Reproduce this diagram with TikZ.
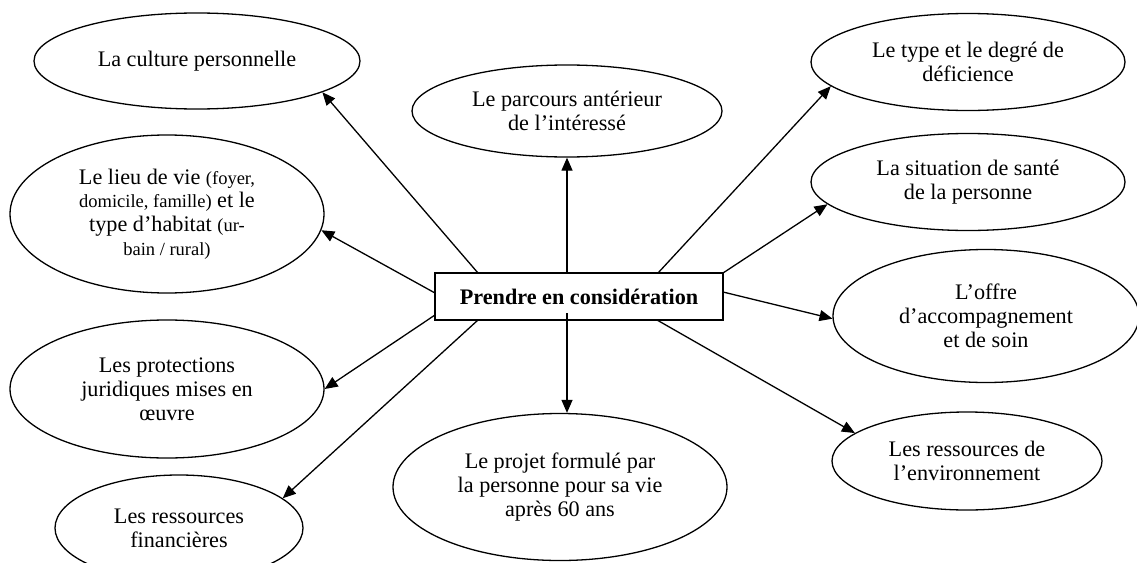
\documentclass[tikz,border=0pt]{standalone}
\usepackage{fontspec}
\setmainfont{Liberation Serif}
\usetikzlibrary{shapes.geometric,arrows.meta}
\begin{document}
\begin{tikzpicture}[x=1pt,y=-1pt,
  oval/.style={draw,ellipse,line width=1.3pt,inner sep=0pt,align=center,
    font=\fontsize{22.2}{23.8}\selectfont},
  hub/.style={draw,rectangle,line width=1.3pt,inner sep=0pt,
    font=\fontsize{22.2}{23.8}\selectfont\bfseries},
  link/.style={line width=1.3pt,-{Triangle[length=13pt,width=11pt]}}]
\useasboundingbox (0,0) rectangle (1137,562);
\fill[white] (0,0) rectangle (1137,562);
\newcommand{\sm}[1]{{\fontsize{18.5}{23.8}\selectfont #1}}
% hub
\node[hub,minimum width=288pt,minimum height=47pt] (box) at (579,296.5) {Prendre en considération};
% ellipses
\node[oval,minimum width=326pt,minimum height=96pt] (cult) at (197,61) {La culture personnelle};
\node[oval,minimum width=314pt,minimum height=158pt] (lieu) at (167,214)
  {Le lieu de vie \sm{(foyer,}\\ \sm{domicile, famille)} et le\\ type d'habitat \sm{(ur-}\\ \sm{bain / rural)}};
\node[oval,minimum width=314pt,minimum height=138pt] (prot) at (167,389)
  {Les protections\\ juridiques mises en\\ œuvre};
\node[oval,minimum width=248pt,minimum height=106pt] (fin) at (179,528)
  {Les ressources\\ financières};
\node[oval,minimum width=310pt,minimum height=92pt] (parc) at (567,111)
  {Le parcours antérieur\\ de l'intéressé};
\node[oval,minimum width=334pt,minimum height=147pt] (proj) at (560,487)
  {Le projet formulé par\\ la personne pour sa vie\\ après 60 ans};
\node[oval,minimum width=314pt,minimum height=97pt] (type) at (968,62)
  {Le type et le degré de\\ déficience};
\node[oval,minimum width=314pt,minimum height=97pt] (sante) at (968,182)
  {La situation de santé\\ de la personne};
\node[oval,minimum width=306pt,minimum height=133pt] (offre) at (986,316)
  {L'offre\\ d'accompagnement\\ et de soin};
\node[oval,minimum width=270pt,minimum height=98pt] (env) at (967,461)
  {Les ressources de\\ l'environnement};
% start points on the hub
\coordinate (sCult) at (478,273);
\coordinate (sLieu) at (435,293);
\coordinate (sProt) at (435,315);
\coordinate (sFin) at (478,320);
\coordinate (sParc) at (567,273);
\coordinate (sProj) at (567,313);
\coordinate (sType) at (658,273);
\coordinate (sSante) at (723,273);
\coordinate (sOffre) at (723,292);
\coordinate (sEnv) at (657,320);
% connectors
\draw[link] (sCult) -- (cult.-14.5);
\draw[link] (sLieu) -- (lieu.-6.9);
\draw[link] (sProt) -- (prot.east);
\draw[link] (sFin) -- (fin.16.5);
\draw[link] (sParc) -- (parc.south);
\draw[link] (sProj) -- (sProj |- proj.north);
\draw[link] (sType) -- (type.190.9);
\draw[link] (sSante) -- (sante.189.7);
\draw[link] (sOffre) -- (offre.181.5);
\draw[link] (sEnv) -- (env.166);
\end{tikzpicture}
\end{document}
